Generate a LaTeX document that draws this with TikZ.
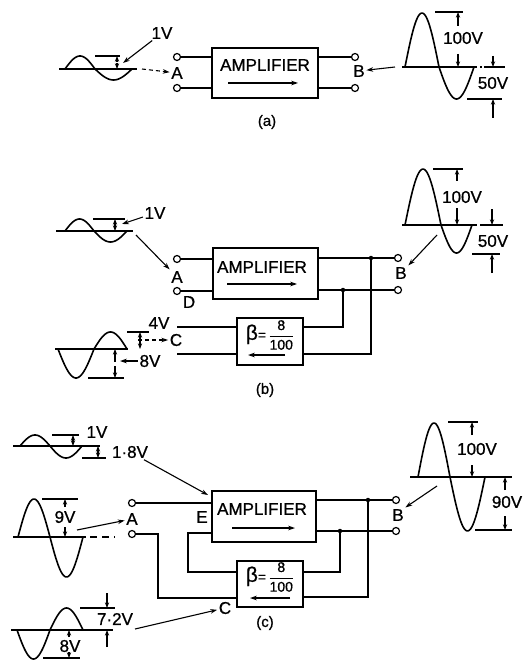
\documentclass[tikz,border=0pt]{standalone}
\usepackage{amsmath}
\usepackage{fontspec}
\setmainfont[FakeBold=0.8]{Liberation Sans}
\usetikzlibrary{arrows.meta, positioning, calc}

\newcommand{\sinewave}[6]{%
    \draw[wave] plot[domain=0:180, samples=30] ({#1+\x/180*#3},{#2-(#4)*sin(\x)})
        -- plot[domain=0:180, samples=30] ({#1+#3+\x/180*#5},{#2+(#6)*sin(\x)});
}
\newcommand{\betatext}{%
    {\fontsize{21}{21}\selectfont β}{\fontsize{14}{14}\selectfont =\,$\dfrac{\mbox{8}}{\mbox{100}}$}%
}

\begin{document}
\begin{tikzpicture}[
        x=1pt, y=-1pt,
        box/.style={draw, line width=2pt, inner sep=0pt},
        term/.style={circle, draw, line width=1.2pt, fill=white, inner sep=0pt, minimum size=7pt},
        dot/.style={circle, fill, inner sep=0pt, minimum size=4.5pt},
        lbl/.style={font=\fontsize{17}{18}\selectfont, inner sep=1.5pt},
        figcap/.style={font=\fontsize{15}{16}\selectfont, inner sep=1pt},
        wire/.style={line width=1.6pt},
        wave/.style={line width=1.6pt},
        rule/.style={line width=1.3pt},
        arr/.style={-{Stealth[length=2.4mm, width=1.6mm]}, line width=1.1pt},
        darr/.style={arr, dash pattern=on 4pt off 3pt},
        markarr/.style={-{Stealth[length=2mm, width=1.5mm]}, line width=1.1pt}
    ]
    \useasboundingbox (0,0) rectangle (523,660);

    % (a)
    \node[box, minimum width=106pt, minimum height=50pt] (ampA) at (265,73) {};
    \node[lbl] (txtA) at (265,65) {AMPLIFIER};
    \node[term] (a1) at (177,57) {};
    \node[term] (a2) at (177,88) {};
    \node[term] (b1) at (355,57) {};
    \node[term] (b2) at (355,88) {};
    \node[lbl] (labA) at (177,73) {A};
    \node[lbl] (labB) at (359,71) {B};
    \node[figcap] (capA) at (267,122) {(a)};
    \draw[wire] (a1) -- (ampA.west |- a1);
    \draw[wire] (a2) -- (ampA.west |- a2);
    \draw[wire] (ampA.east |- b1) -- (b1);
    \draw[wire] (ampA.east |- b2) -- (b2);
    \draw[arr] (228,83) -- (298,83);

    \sinewave{65}{69}{30}{13}{37}{11}
    \draw[rule] (59,69) -- (137,69);
    \draw[rule] (95,56) -- (120,56);
    \node[lbl] (v1A) at (162,33) {1V};
    \coordinate (p1A) at (123,63);
    \draw[arr] (v1A) -- (p1A);
    \coordinate (inA) at (142,69);
    \draw[darr] (inA) -- (labA);

    \sinewave{405}{67}{34}{54}{35}{32}
    \draw[rule] (402,67) -- (475,67);
    \draw[rule, dash pattern=on 2pt off 3pt] (475,67) -- (484,67);
    \draw[rule] (484,67) -- (505,67);
    \draw[rule] (435,12) -- (463,12);
    \draw[rule] (467,99) -- (502,99);
    \node[lbl] (v100A) at (463,38) {100V};
    \node[lbl] (v50A) at (493,83) {50V};
    \coordinate (outA) at (395,67);
    \draw[arr] (outA) -- (labB);

    % (b)
    \node[box, minimum width=105pt, minimum height=51pt] (ampB) at (265.5,273.5) {};
    \node[box, minimum width=66pt, minimum height=47pt] (fbB) at (270,341.5) {};
    \node[lbl] (txtB) at (262,267) {AMPLIFIER};
    \node[lbl] (betaB) at (270,335) {\betatext};
    \node[term] (a1b) at (177,259) {};
    \node[term] (a2b) at (177,291) {};
    \node[term] (b1b) at (398,258) {};
    \node[term] (b2b) at (398,290) {};
    \node[dot] (j1b) at (371,258) {};
    \node[dot] (j2b) at (343,290) {};
    \coordinate (c1b) at (177,327);
    \coordinate (c2b) at (177,354);
    \node[lbl] (labAb) at (177,277) {A};
    \node[lbl] (labD) at (189,302) {D};
    \node[lbl] (labBb) at (401,273) {B};
    \node[lbl] (labC) at (176,340) {C};
    \node[lbl] (v4) at (159,323) {4V};
    \node[figcap] (capB) at (265,390) {(b)};
    \draw[wire] (a1b) -- (ampB.west |- a1b);
    \draw[wire] (a2b) -- (ampB.west |- a2b);
    \draw[wire] (ampB.east |- b1b) -- (j1b) -- (b1b);
    \draw[wire] (ampB.east |- b2b) -- (j2b) -- (b2b);
    \draw[wire] (c1b) -- (fbB.west |- c1b);
    \draw[wire] (c2b) -- (fbB.west |- c2b);
    \draw[wire] (fbB.east |- c1b) -| (j2b);
    \draw[wire] (fbB.east |- c2b) -| (j1b);
    \draw[arr] (227,284) -- (297,284);
    \draw[arr] (285,355) -- (248,355);

    \sinewave{65}{231}{29}{12}{33}{11}
    \draw[rule] (56,231) -- (133,231);
    \draw[rule] (93,219) -- (125,219);
    \node[lbl] (v1b) at (155,213) {1V};
    \coordinate (p1b) at (122,224);
    \draw[arr] (v1b) -- (p1b);
    \coordinate (inB) at (136,235);
    \draw[arr] (inB) -- (labAb);

    \sinewave{405}{225}{36}{56}{31}{28}
    \draw[rule] (402,225) -- (475,225);
    \draw[rule, dash pattern=on 2pt off 3pt] (475,225) -- (482,225);
    \draw[rule] (482,225) -- (503,225);
    \draw[rule] (433,169) -- (463,169);
    \draw[rule] (472,254) -- (500,254);
    \node[lbl] (v100B) at (462,197) {100V};
    \node[lbl] (v50B) at (493,241) {50V};
    \coordinate (outB) at (437,235);
    \draw[arr] (outB) -- (labBb.north east);

    \sinewave{58}{349}{36}{-29}{33}{-17}
    \draw[rule] (55,349) -- (128,349);
    \draw[rule] (127,332) -- (149,332);
    \draw[rule] (88,378) -- (124,378);
    \node[lbl] (v8b) at (150,361) {8V};
    \coordinate (p8b) at (120,361);
    \draw[arr] (v8b) -- (p8b);
    \coordinate (inC) at (138,340);
    \draw[darr] (inC) -- (labC);

    % (c)
    \node[box, minimum width=104pt, minimum height=51pt] (ampC) at (264,516.5) {};
    \node[box, minimum width=66pt, minimum height=46pt] (fbC) at (270,584) {};
    \node[lbl] (txtC) at (262,509) {AMPLIFIER};
    \node[lbl] (betaC) at (270,577) {\betatext};
    \node[term] (a1c) at (132,503) {};
    \node[term] (a2c) at (132,534) {};
    \node[term] (b1c) at (396,500) {};
    \node[term] (b2c) at (396,531) {};
    \node[dot] (j1c) at (368,500) {};
    \node[dot] (j2c) at (340,531) {};
    \node[lbl] (labAc) at (132,519) {A};
    \node[lbl] (labE) at (202,517) {E};
    \node[lbl] (labBc) at (398,515) {B};
    \node[lbl] (labCc) at (225,608) {C};
    \node[figcap] (capC) at (265,623) {(c)};
    \draw[wire] (a1c) -- (ampC.west |- a1c);
    \draw[wire] (ampC.east |- b1c) -- (j1c) -- (b1c);
    \draw[wire] (ampC.east |- b2c) -- (j2c) -- (b2c);
    \draw[wire] (ampC.west |- 0,533) -- (188,533) |- (fbC.west |- 0,572);
    \draw[wire] (a2c) -- (158,534) |- (fbC.west |- 0,598);
    \draw[wire] (fbC.east |- 0,572) -| (j2c);
    \draw[wire] (fbC.east |- 0,597) -| (j1c);
    \draw[arr] (232,528) -- (295,528);
    \draw[arr] (290,598) -- (250,598);

    \sinewave{20}{446}{30}{11}{32}{12}
    \draw[rule] (13,446) -- (100,446);
    \draw[rule] (52,435) -- (79,435);
    \draw[rule] (82,458) -- (106,458);
    \node[lbl] (v1c) at (97,432) {1V};
    \node[lbl] (v18) at (130,452) {1·8V};
    \coordinate (p18) at (208,495);
    \draw[arr] (v18) -- (p18);

    \sinewave{18}{537}{32}{38}{33}{40}
    \draw[rule] (13,537) -- (86,537);
    \draw[rule, dash pattern=on 7pt off 5pt] (90,537) -- (115,537);
    \draw[rule] (42,499) -- (78,499);
    \node[lbl] (v9) at (65,517) {9V};
    \coordinate (in9) at (77,530);
    \draw[arr] (in9) -- (labAc);

    \sinewave{17}{630}{33}{-29}{33}{-22}
    \draw[rule] (11,630) -- (113,630);
    \draw[rule] (80,608) -- (115,608);
    \draw[rule] (43,658) -- (80,658);
    \node[lbl] (v72) at (115,619) {7·2V};
    \node[lbl] (v8c) at (70,646) {8V};
    \coordinate (in72) at (135,629);
    \draw[arr] (in72) -- (labCc);

    \sinewave{418}{477}{32}{54}{35}{54}
    \draw[rule] (410,477) -- (512,477);
    \draw[rule] (448,422) -- (478,422);
    \draw[rule] (475,530) -- (512,530);
    \node[lbl] (v100C) at (477,449) {100V};
    \node[lbl] (v90) at (507,502) {90V};
    \coordinate (outC) at (437,486);
    \draw[arr] (outC) -- (labBc.north east);

    % voltage marks
    \foreach \xa/\ya/\yb in {117/62/56, 117/63/69, 458/26/12, 458/54/67, 493/56/67, 493/118/99,
            115/225/219, 115/225/231, 457/181/169, 457/208/225, 492/209/225, 492/273/254,
            140/341/332, 140/341/349, 115/362/349, 115/366/378,
            73/441/435, 73/441/446, 98/452/446, 98/452/458, 65/507/499, 65/527/537,
            107/593/608, 107/647/630, 69/637/630, 69/652/658,
            472/435/422, 472/465/477, 505/490/477, 505/516/530}
        \draw[markarr] (\xa,\ya) -- (\xa,\yb);
\end{tikzpicture}
\end{document}
